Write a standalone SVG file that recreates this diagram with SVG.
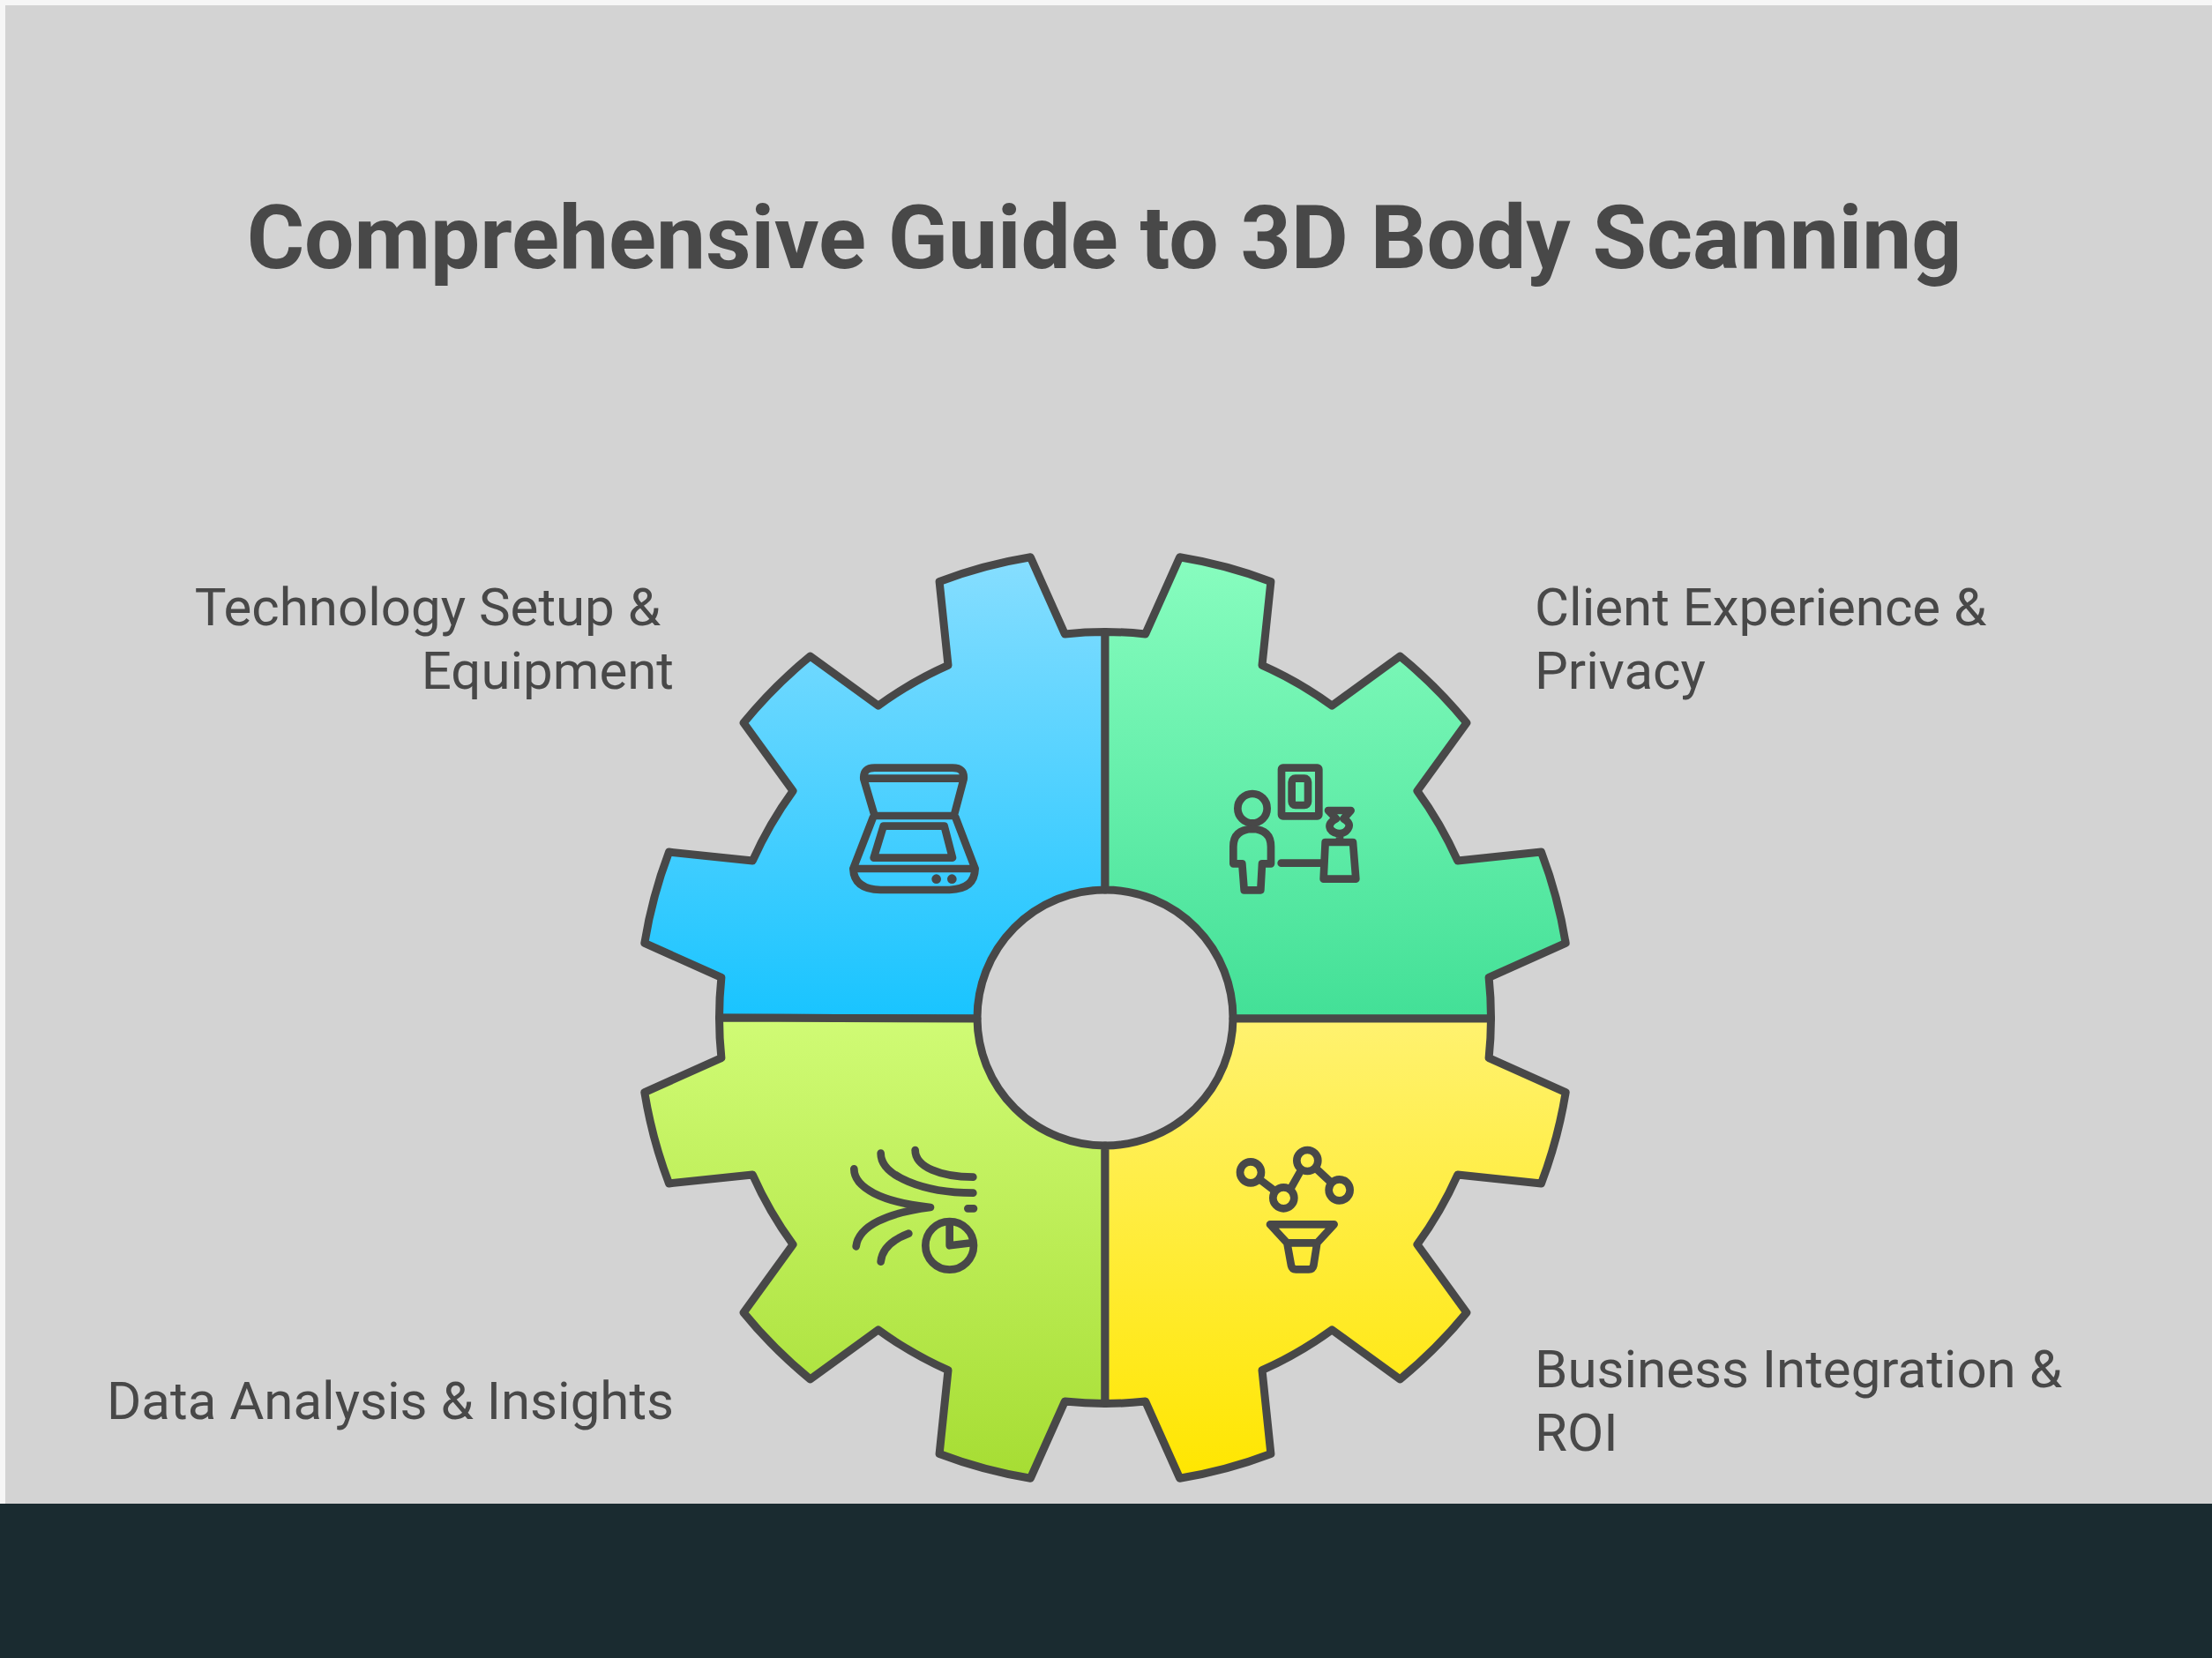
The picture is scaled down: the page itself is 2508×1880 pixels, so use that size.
<svg xmlns="http://www.w3.org/2000/svg" width="2508" height="1880" viewBox="0 0 2508 1880">
<style>
.seg{stroke:#484848;stroke-width:9;stroke-linejoin:round}
.ic{fill:none;stroke:#484848;stroke-width:26;stroke-linecap:round;stroke-linejoin:round}
.t{font-family:Roboto,"Liberation Sans",sans-serif;fill:#484848}
.lab{font-size:60px}
</style>
<defs>
<linearGradient id="gb" gradientUnits="userSpaceOnUse" x1="0" y1="630" x2="0" y2="1154"><stop offset="0" stop-color="#87DEFF"/><stop offset="1" stop-color="#19C4FF"/></linearGradient>
<linearGradient id="gg" gradientUnits="userSpaceOnUse" x1="0" y1="630" x2="0" y2="1154"><stop offset="0" stop-color="#88FDBF"/><stop offset="1" stop-color="#43E097"/></linearGradient>
<linearGradient id="gl" gradientUnits="userSpaceOnUse" x1="0" y1="1154" x2="0" y2="1677"><stop offset="0" stop-color="#D0FB75"/><stop offset="1" stop-color="#A6DD33"/></linearGradient>
<linearGradient id="gy" gradientUnits="userSpaceOnUse" x1="0" y1="1154" x2="0" y2="1677"><stop offset="0" stop-color="#FFF270"/><stop offset="1" stop-color="#FFE600"/></linearGradient>
</defs>
<rect width="2508" height="1880" fill="#F6F6F6"/>
<rect x="6" y="6" width="2502" height="1710" fill="#D3D3D3"/>
<rect y="1705" width="2508" height="175" fill="#1A2B30"/>
<text id="title" class="t" x="1252" y="304" font-size="100" font-weight="700" text-anchor="middle">Comprehensive Guide to 3D Body Scanning</text>
<g id="node-technology">
<path class="seg" fill="url(#gb)" d="M1253 716.5A437.5 437.5 0 0 0 1207.3 718.9L1168.4 631.8A529 529 0 0 0 1065.1 659.5L1075 754.3A437.5 437.5 0 0 0 995.8 800.1L918.7 744.1A529 529 0 0 0 843.1 819.7L899.1 896.8A437.5 437.5 0 0 0 853.3 976L758.5 966.1A529 529 0 0 0 730.8 1069.4L817.9 1108.3A437.5 437.5 0 0 0 815.5 1154L1108 1155A145 145 0 0 1 1253 1009Z"/>
<g class="ic" transform="translate(940 850) scale(.3333)">
<path d="M155 225L118 100Q115 62 155 62H420Q462 62 458 100L425 225ZM118 98H458M150 230L82 405H497L430 230M82 405Q85 475 175 477H410Q495 475 497 405M185 260H392L420 368H152Z"/>
<circle cx="365" cy="440" r="16" fill="#484848" stroke="none"/>
<circle cx="418" cy="440" r="16" fill="#484848" stroke="none"/>
</g>
<text class="t lab" x="749" y="709" text-anchor="end">Technology Setup &amp;</text>
<text class="t lab" x="764" y="781" text-anchor="end">Equipment</text>
</g>
<g id="node-client">
<path class="seg" fill="url(#gg)" d="M1253 716.5A437.5 437.5 0 0 1 1298.7 718.9L1337.6 631.8A529 529 0 0 1 1440.9 659.5L1431 754.3A437.5 437.5 0 0 1 1510.2 800.1L1587.3 744.1A529 529 0 0 1 1662.9 819.7L1606.9 896.8A437.5 437.5 0 0 1 1652.7 976L1747.5 966.1A529 529 0 0 1 1775.2 1069.4L1688.1 1108.3A437.5 437.5 0 0 1 1690.5 1155H1398A145 145 0 0 0 1253 1009Z"/>
<g class="ic" transform="translate(1380 850) scale(.3333)">
<circle cx="120" cy="200" r="50"/>
<path d="M120 270Q55 272 55 330V388H85L92 478H148L153 388H183V330Q183 272 120 270Z"/>
<rect x="219" y="62" width="127" height="164" rx="5"/>
<rect x="254" y="98" width="55" height="91" rx="12"/>
<path d="M218 386H360M368 315H462L472 440H362ZM378 207H455L430 235Q458 250 445 270Q435 285 417 285Q395 285 385 270Q375 250 405 235ZM417 285V315"/>
</g>
<text class="t lab" x="1740" y="709">Client Experience &amp;</text>
<text class="t lab" x="1740" y="781">Privacy</text>
</g>
<g id="node-data">
<path class="seg" fill="url(#gl)" d="M1253 1591.5A437.5 437.5 0 0 1 1207.3 1589.1L1168.4 1676.2A529 529 0 0 1 1065.1 1648.5L1075 1553.7A437.5 437.5 0 0 1 995.8 1507.9L918.7 1563.9A529 529 0 0 1 843.1 1488.3L899.1 1411.2A437.5 437.5 0 0 1 853.3 1332L758.5 1341.9A529 529 0 0 1 730.8 1238.6L817.9 1199.7A437.5 437.5 0 0 1 815.5 1154L1108 1155A145 145 0 0 0 1253 1299Z"/>
<g class="ic" transform="translate(950 1290) scale(.3333)">
<path d="M55 106C55 170 150 220 315 237M62 370C70 300 170 255 315 237M146 53C146 130 290 188 460 188M263 42C263 100 350 134 460 134M442 241H462M146 422C150 375 190 345 241 326M380 290V367L455 358"/>
<circle cx="380" cy="367" r="82"/>
</g>
<text class="t lab" x="764" y="1609" text-anchor="end">Data Analysis &amp; Insights</text>
</g>
<g id="node-business">
<path class="seg" fill="url(#gy)" d="M1253 1591.5A437.5 437.5 0 0 0 1298.7 1589.1L1337.6 1676.2A529 529 0 0 0 1440.9 1648.5L1431 1553.7A437.5 437.5 0 0 0 1510.2 1507.9L1587.3 1563.9A529 529 0 0 0 1662.9 1488.3L1606.9 1411.2A437.5 437.5 0 0 0 1652.7 1332L1747.5 1341.9A529 529 0 0 0 1775.2 1238.6L1688.1 1199.7A437.5 437.5 0 0 0 1690.5 1155H1398A145 145 0 0 1 1253 1299Z"/>
<g class="ic" transform="translate(1390 1290) scale(.3333)">
<circle cx="84" cy="118" r="36"/>
<circle cx="196" cy="205" r="36"/>
<circle cx="277" cy="78" r="36"/>
<circle cx="386" cy="178" r="36"/>
<path d="M115 142L165 180M222 170L250 120M310 108L355 150M150 295H368L310 358H208ZM208 358L222 435Q225 448 238 448H282Q295 448 298 435L310 358"/>
</g>
<text class="t lab" x="1740" y="1573">Business Integration &amp;</text>
<text class="t lab" x="1740" y="1645">ROI</text>
</g>
</svg>
